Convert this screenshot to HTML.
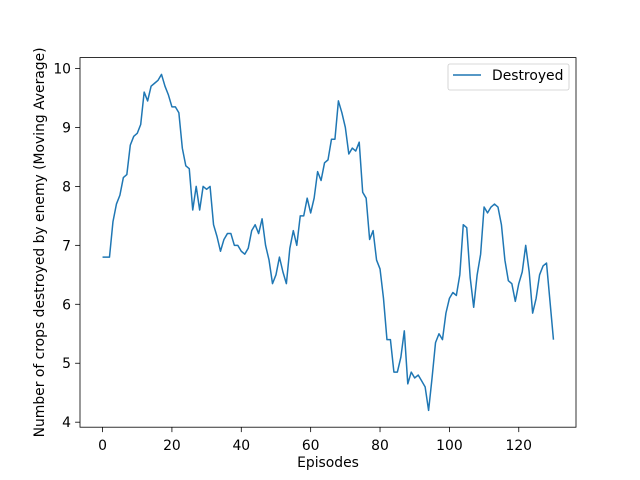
<!DOCTYPE html>
<html><head><meta charset="utf-8"><style>
body{margin:0;background:#fff;}
svg{display:block;font-family:"DejaVu Sans","Liberation Sans",sans-serif;}
</style></head><body>
<svg id="chart" width="640" height="480"></svg>
<script>
const episodes = [];
const destroyed = [6.8,6.8,6.8,7.4,7.7,7.85,8.15,8.2,8.7,8.85,8.9,9.05,9.6,9.45,9.7,9.75,9.8,9.9,9.7,9.55,
9.35,9.35,9.25,8.65,8.35,8.3,7.6,8.0,7.6,8.0,7.95,8.0,7.35,7.15,6.9,7.1,7.2,7.2,7.0,7.0,
6.9,6.85,6.95,7.25,7.35,7.2,7.45,7.0,6.75,6.35,6.5,6.8,6.55,6.35,6.95,7.25,7.0,7.5,7.5,7.8,
7.55,7.8,8.25,8.1,8.4,8.45,8.8,8.8,9.45,9.25,9.0,8.55,8.65,8.6,8.75,7.9,7.8,7.1,7.25,6.75,
6.6,6.1,5.4,5.4,4.85,4.85,5.1,5.55,4.65,4.85,4.75,4.8,4.7,4.6,4.2,4.75,5.35,5.5,5.4,5.85,
6.1,6.2,6.15,6.5,7.35,7.3,6.45,5.95,6.5,6.85,7.65,7.55,7.65,7.7,7.65,7.35,6.75,6.4,6.35,6.05,
6.35,6.55,7.0,6.55,5.85,6.1,6.5,6.65,6.7,6.05,5.4];
for (let i = 0; i < destroyed.length; i++) episodes.push(i);
const xTicks = [0,20,40,60,80,100,120];
const yTicks = [4,5,6,7,8,9,10];

const L=80,R=576,T=57.6,B=427.2;
const xmin=-6.5,xmax=136.5,ymin=3.915,ymax=10.185;
const X=v=>L+(v-xmin)/(xmax-xmin)*(R-L);
const Y=v=>B-(v-ymin)/(ymax-ymin)*(B-T);
const svg=document.getElementById('chart');
const NS='http://www.w3.org/2000/svg';
const FS=13.9;
function mk(tag,attrs,parent){const e=document.createElementNS(NS,tag);for(const k in attrs)e.setAttribute(k,attrs[k]);(parent||svg).appendChild(e);return e;}

const line=mk('polyline',{points:episodes.map((e,i)=>X(e)+','+Y(destroyed[i])).join(' '),fill:'none',stroke:'#1f77b4','stroke-width':1.5,'stroke-linejoin':'round'});



const frame=mk('rect',{x:L,y:T,width:R-L,height:B-T,fill:'none',stroke:'#000','stroke-width':0.8});



xTicks.forEach(t=>{
  mk('line',{x1:X(t),x2:X(t),y1:B,y2:B+4.9,stroke:'#000','stroke-width':0.8});
  const tx=mk('text',{x:X(t),y:B+23,'font-size':FS,'text-anchor':'middle'});
  tx.textContent=t;
  
  
});
yTicks.forEach(t=>{
  mk('line',{x1:L-4.9,x2:L,y1:Y(t),y2:Y(t),stroke:'#000','stroke-width':0.8});
  const tx=mk('text',{x:L-9,y:Y(t)+5,'font-size':FS,'text-anchor':'end'});
  tx.textContent=t;
  
  
});

const xt=mk('text',{x:(L+R)/2,y:467,'font-size':FS,'text-anchor':'middle'});
xt.textContent='Episodes';


const yt=mk('text',{x:0,y:0,'font-size':FS,'text-anchor':'middle',transform:`translate(44,${(T+B)/2}) rotate(-90)`});
yt.textContent='Number of crops destroyed by enemy (Moving Average)';



const lg=mk('g',{});


mk('rect',{x:448,y:64,width:121,height:26,rx:2,fill:'#fff',stroke:'#ccc','stroke-width':0.8},lg);
mk('line',{x1:453,x2:481,y1:75,y2:75,stroke:'#1f77b4','stroke-width':1.5},lg);
const lt=mk('text',{x:492,y:80,'font-size':FS},lg);
lt.textContent='Destroyed';


</script>
</body></html>
